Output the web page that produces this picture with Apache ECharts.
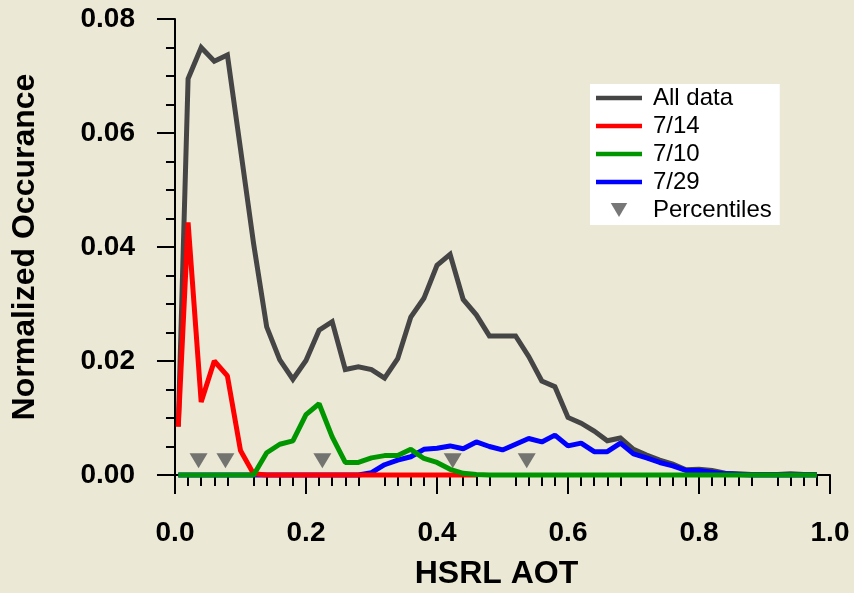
<!DOCTYPE html>
<html>
<head>
<meta charset="utf-8">
<title>HSRL AOT distribution</title>
<script src="https://cdn.jsdelivr.net/npm/echarts@6/dist/echarts.min.js"></script>
<style>
  html, body { margin: 0; padding: 0; background: #ECE8D6; }
  #chart { width: 854px; height: 593px; }
</style>
</head>
<body>
<div id="chart"></div>
<script>
// AOT bin positions shared by every histogram curve
const aotBins = [0.005, 0.02, 0.04, 0.06, 0.08, 0.10, 0.12, 0.14, 0.16, 0.18,
  0.20, 0.22, 0.24, 0.26, 0.28, 0.30, 0.32, 0.34, 0.36, 0.38,
  0.40, 0.42, 0.44, 0.46, 0.48, 0.50, 0.52, 0.54, 0.56, 0.58,
  0.60, 0.62, 0.64, 0.66, 0.68, 0.70, 0.72, 0.74, 0.76, 0.78,
  0.80, 0.82, 0.84, 0.86, 0.88, 0.90, 0.92, 0.94, 0.96, 0.98];

// Normalized occurrence, all flights
const allData = [0.0085, 0.0695, 0.0750, 0.0726, 0.0737, 0.0572, 0.0406, 0.0260, 0.0202, 0.0168,
  0.0201, 0.0254, 0.0269, 0.0185, 0.0190, 0.0185, 0.0170, 0.0204, 0.0277, 0.0310,
  0.0368, 0.0387, 0.0308, 0.0281, 0.0244, 0.0244, 0.0244, 0.0208, 0.0165, 0.0155,
  0.0101, 0.0091, 0.0077, 0.0060, 0.0065, 0.0045, 0.0035, 0.0026, 0.0019, 0.0009,
  0.0010, 0.0008, 0.0003, 0.0002, 0.0001, 0.0001, 0.0001, 0.0002, 0.0001, 0.0001];

// 7/14 flight (first 24 bins)
const day0714 = [0.0085, 0.0443, 0.0128, 0.0200, 0.0174, 0.0043, 0.0002, 0.0000, 0.0000, 0.0000,
  0.0000, 0.0000, 0.0000, 0.0000, 0.0000, 0.0000, 0.0000, 0.0000, 0.0000, 0.0000,
  0.0000, 0.0000, 0.0000, 0.0000];

// 7/10 flight
const day0710 = [0.0000, 0.0000, 0.0000, 0.0000, 0.0000, 0.0000, 0.0000, 0.0039, 0.0054, 0.0060,
  0.0106, 0.0125, 0.0067, 0.0022, 0.0022, 0.0030, 0.0034, 0.0034, 0.0045, 0.0029,
  0.0022, 0.0010, 0.0003, 0.0001, 0.0000, 0.0000, 0.0000, 0.0000, 0.0000, 0.0000,
  0.0000, 0.0000, 0.0000, 0.0000, 0.0000, 0.0000, 0.0000, 0.0000, 0.0000, 0.0000,
  0.0000, 0.0000, 0.0000, 0.0000, 0.0000, 0.0000, 0.0000, 0.0000, 0.0000, 0.0000];

// 7/29 flight
const day0729 = [0.0000, 0.0000, 0.0000, 0.0000, 0.0000, 0.0000, 0.0000, 0.0000, 0.0000, 0.0000,
  0.0000, 0.0000, 0.0000, 0.0000, 0.0000, 0.0004, 0.0018, 0.0026, 0.0032, 0.0045,
  0.0047, 0.0051, 0.0046, 0.0058, 0.0050, 0.0044, 0.0054, 0.0064, 0.0058, 0.0070,
  0.0051, 0.0056, 0.0041, 0.0041, 0.0056, 0.0037, 0.0030, 0.0022, 0.0016, 0.0008,
  0.0008, 0.0005, 0.0002, 0.0001, 0.0000, 0.0000, 0.0000, 0.0000, 0.0000, 0.0000];

// Percentile markers of the full distribution
const pctAot = [0.036, 0.077, 0.225, 0.424, 0.537];
const pctLevel = [0.0025, 0.0025, 0.0025, 0.0025, 0.0025];

// Axis ticks
const xMajorTicks = [0.0, 0.2, 0.4, 0.6, 0.8, 1.0];
const xMinorTicks = [0.02, 0.04, 0.06, 0.08, 0.12, 0.14, 0.16, 0.18, 0.22, 0.24, 0.26, 0.28,
  0.32, 0.34, 0.36, 0.38, 0.42, 0.44, 0.46, 0.48, 0.52, 0.54, 0.56, 0.58,
  0.62, 0.64, 0.66, 0.68, 0.72, 0.74, 0.76, 0.78, 0.82, 0.84, 0.86, 0.88,
  0.92, 0.94, 0.96, 0.98];
const yMajorTicks = [0.00, 0.02, 0.04, 0.06, 0.08];
const yMinorTicks = [0.005, 0.010, 0.015, 0.025, 0.030, 0.035, 0.045, 0.050, 0.055, 0.065, 0.070, 0.075];

const pair = (xs, ys) => ys.map((v, i) => [xs[i], v]);

const FONT = 'Liberation Sans';
const axisColor = '#000';
const LINE_W = 5;
const triPath = 'path://M0,0L20,0L10,17Z';
// flat bar used as the legend swatch for the curves
const barPath = 'path://M0,0L46,0L46,4.5L0,4.5Z';

const xBase = {
  type: 'value', min: -0.0183, max: 1.0, position: 'bottom',
  splitLine: { show: false },
  axisLine: { show: true, lineStyle: { color: axisColor, width: 2 } }
};
const yBase = {
  type: 'value', min: -0.00193, max: 0.08, position: 'left',
  splitLine: { show: false },
  axisLine: { show: true, lineStyle: { color: axisColor, width: 2 } }
};

const chart = echarts.init(document.getElementById('chart'), null, { renderer: 'canvas' });
chart.setOption({
  animation: false,
  backgroundColor: '#ECE8D6',
  grid: { left: 163, right: 24, top: 19, bottom: 107, containLabel: false, outerBoundsMode: 'none' },
  xAxis: [
    Object.assign({}, xBase, {
      name: 'HSRL AOT', nameLocation: 'middle', nameGap: 72,
      nameTextStyle: { fontFamily: FONT, fontWeight: 'bold', fontSize: 32, color: '#000' },
      axisTick: { show: true, inside: false, length: 19, customValues: xMajorTicks,
        lineStyle: { color: axisColor, width: 2 } },
      axisLabel: { show: true, customValues: xMajorTicks, margin: 33,
        fontFamily: FONT, fontWeight: 'bold', fontSize: 28, color: '#000',
        formatter: v => v.toFixed(1) }
    }),
    Object.assign({}, xBase, {
      axisLine: { show: false },
      axisTick: { show: true, inside: false, length: 11, customValues: xMinorTicks,
        lineStyle: { color: axisColor, width: 2 } },
      axisLabel: { show: false }
    })
  ],
  yAxis: [
    Object.assign({}, yBase, {
      name: 'Normalized Occurance', nameLocation: 'middle', nameGap: 122, nameRotate: 90,
      nameTextStyle: { fontFamily: FONT, fontWeight: 'bold', fontSize: 32, color: '#000',
        padding: [0, 0, 0, 11] },
      axisTick: { show: true, inside: false, length: 18, customValues: yMajorTicks,
        lineStyle: { color: axisColor, width: 2 } },
      axisLabel: { show: true, customValues: yMajorTicks, margin: 28,
        fontFamily: FONT, fontWeight: 'bold', fontSize: 28, color: '#000',
        formatter: v => v.toFixed(2) }
    }),
    Object.assign({}, yBase, {
      axisLine: { show: false },
      axisTick: { show: true, inside: false, length: 9, customValues: yMinorTicks,
        lineStyle: { color: axisColor, width: 2 } },
      axisLabel: { show: false }
    })
  ],
  legend: {
    orient: 'vertical', left: 590, top: 84,
    backgroundColor: '#FFFFFF', borderWidth: 0,
    padding: [2, 8, 3, 6],
    itemWidth: 46, itemHeight: 14, itemGap: 4,
    symbolKeepAspect: true,
    textStyle: { fontFamily: FONT, fontSize: 24, lineHeight: 24, color: '#000', padding: [0, 0, 0, 6] },
    data: [
      { name: 'All data', icon: barPath },
      { name: '7/14', icon: barPath },
      { name: '7/10', icon: barPath },
      { name: '7/29', icon: barPath },
      { name: 'Percentiles', icon: triPath }
    ]
  },
  series: [
    { name: 'All data', type: 'line', xAxisIndex: 0, yAxisIndex: 0, symbol: 'none',
      data: pair(aotBins, allData), color: '#454545',
      lineStyle: { color: '#454545', width: LINE_W, join: 'miter' }, z: 2 },
    { name: '7/29', type: 'line', xAxisIndex: 0, yAxisIndex: 0, symbol: 'none',
      data: pair(aotBins, day0729), color: '#0000FF',
      lineStyle: { color: '#0000FF', width: LINE_W }, z: 3 },
    { name: '7/14', type: 'line', xAxisIndex: 0, yAxisIndex: 0, symbol: 'none',
      data: pair(aotBins, day0714), color: '#FF0000',
      lineStyle: { color: '#FF0000', width: LINE_W }, z: 4 },
    { name: '7/10', type: 'line', xAxisIndex: 0, yAxisIndex: 0, symbol: 'none',
      data: pair(aotBins, day0710), color: '#009600',
      lineStyle: { color: '#009600', width: LINE_W }, z: 5 },
    { name: 'Percentiles', type: 'scatter', xAxisIndex: 0, yAxisIndex: 0,
      symbol: triPath, symbolSize: [18, 15], symbolKeepAspect: false,
      data: pair(pctAot, pctLevel), color: '#555555',
      itemStyle: { color: '#555555' }, z: 6 }
  ]
});
</script>
</body>
</html>
